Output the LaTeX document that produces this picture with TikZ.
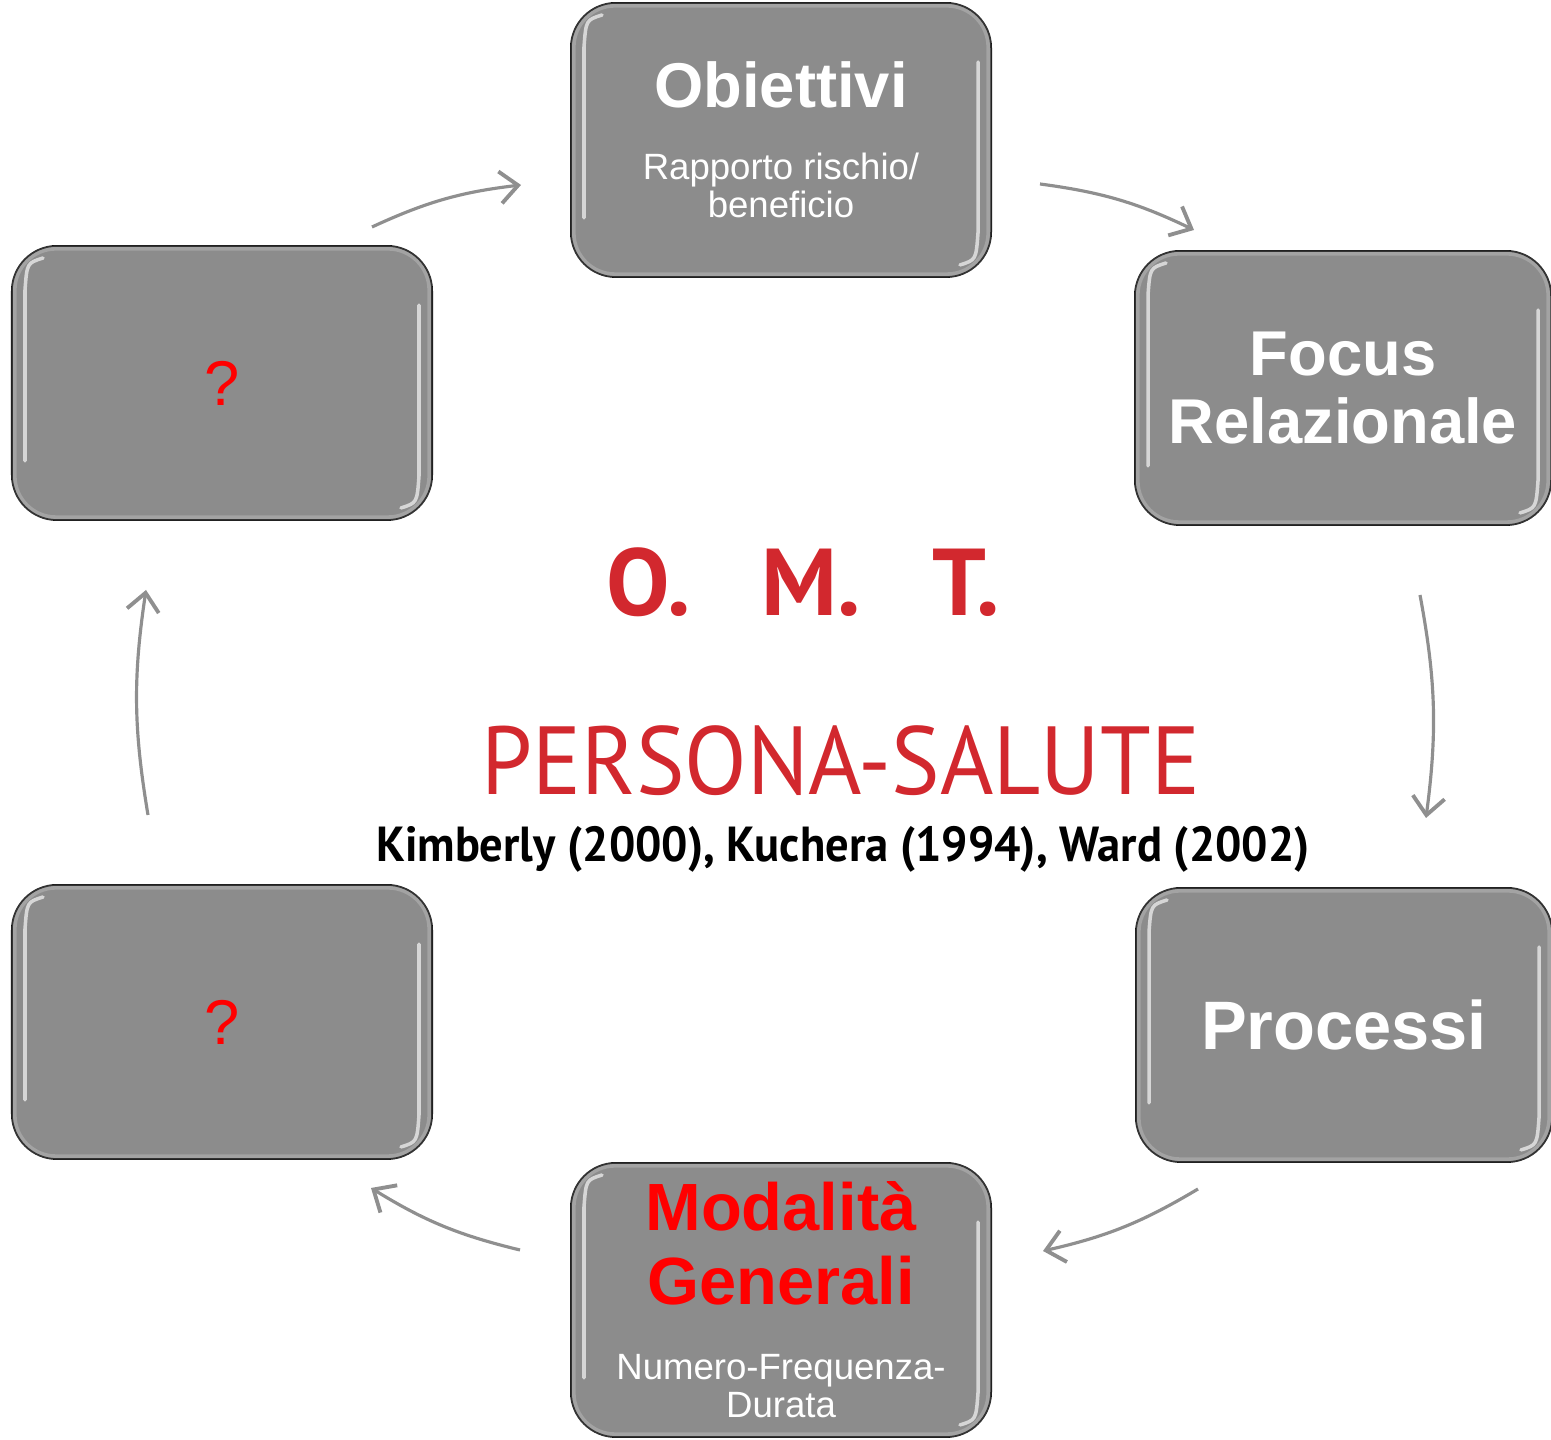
\documentclass[tikz,border=0pt]{standalone}
\usepackage{fontspec}
\setmainfont{Liberation Sans}
\newfontfamily\omtfont{PT Sans}
\newfontfamily\omtnarrow[FakeStretch=0.945]{PT Sans}
\usetikzlibrary{arrows.meta}
\definecolor{boxgray}{HTML}{8C8C8C}
\definecolor{omtred}{HTML}{D2282E}
\definecolor{arrowgray}{HTML}{8F8F8F}
\newcommand{\subfont}{\fontsize{10.4}{10.8}\selectfont\lineskiplimit=-100pt\relax}
\newcommand{\titlefont}{\fontsize{18}{20}\selectfont\bfseries}
\newcommand{\modfont}{\fontsize{19}{21}\selectfont\bfseries\color{red}}
\tikzset{
  stepbox/.style={draw=black, line width=0.5pt, fill=boxgray, rounded corners=0.45cm,
    minimum width=4.2cm, minimum height=2.74cm, align=center, text=white, inner sep=0pt},
  askbox/.style={stepbox, text=red, font=\fontsize{18}{20}\selectfont},
  gloss/.style={white, opacity=0.65, line width=1pt, line cap=round},
  cyc/.style={draw=arrowgray, line width=0.9pt, -{Straight Barb[length=1.8mm,width=3.2mm,line width=1.1pt]}, bend left=9}
}

\begin{document}
\begin{tikzpicture}[x=0.01cm, y=0.01cm]
  \useasboundingbox (0,0) rectangle (1551,1440);
  % the six boxes
  \node[stepbox, font=\subfont] (obj) at (781,1300)
    {\titlefont Obiettivi\\[9.7pt]Rapporto rischio/\\beneficio};
  \node[stepbox, minimum width=4.16cm, font=\bfseries\fontsize{18}{19.5}\selectfont] (focus) at (1343,1052) {Focus\\Relazionale};
  \node[stepbox, minimum width=4.16cm, font=\bfseries\fontsize{19.5}{21}\selectfont] (proc) at (1344,415) {Processi};
  \node[stepbox, font=\subfont] (mod) at (781,140)
    {\modfont Modalità\\[10.2pt]\modfont Generali\\[10.6pt]Numero-Frequenza-\\Durata};
  \node[askbox] (q2) at (222,418) {?};
  \node[askbox] (q1) at (222,1057) {?};
  % glossy edges
  \foreach \b in {obj,focus,proc,mod,q2,q1}
  {
    \draw[white, opacity=0.2, line width=1.5pt, rounded corners=0.42cm]
      ([shift={(3,-3)}]\b.north west) rectangle ([shift={(-3,3)}]\b.south east);
    \draw[gloss] ([shift={(32,-13)}]\b.north west) .. controls ([shift={(16,-18)}]\b.north west) .. ([shift={(14,-45)}]\b.north west)
      -- ([shift={(14,60)}]\b.south west);
    \draw[gloss] ([shift={(-14,-60)}]\b.north east) -- ([shift={(-14,45)}]\b.south east)
      .. controls ([shift={(-16,18)}]\b.south east) .. ([shift={(-32,13)}]\b.south east);
  }

  % centre
  \node[text=omtred, font=\omtfont\bfseries\fontsize{27}{30}\selectfont] (omt) at (803,858)
    {O.\hspace{0.75em}M.\hspace{0.75em}T.};
  \node[text=omtred, font=\omtnarrow\fontsize{27.5}{30}\selectfont] (ps) at (841,679) {PERSONA-SALUTE};
  \node[font=\omtnarrow\bfseries\fontsize{14}{16}\selectfont] (refs) at (843,591)
    {Kimberly (2000), Kuchera (1994), Ward (2002)};

  % cycle arrows
  \coordinate (s1) at (372,1213);  \coordinate (e1) at (521,1255);
  \coordinate (s2) at (1040,1256); \coordinate (e2) at (1194,1210);
  \coordinate (s3) at (1420,845);  \coordinate (e3) at (1426,622);
  \coordinate (s4) at (1198,251);  \coordinate (e4) at (1043,189);
  \coordinate (s5) at (520,190);   \coordinate (e5) at (371,252);
  \coordinate (s6) at (148,625);   \coordinate (e6) at (146,850);
  \foreach \i in {1,...,6} \draw[cyc] (s\i) to (e\i);
\end{tikzpicture}
\end{document}
